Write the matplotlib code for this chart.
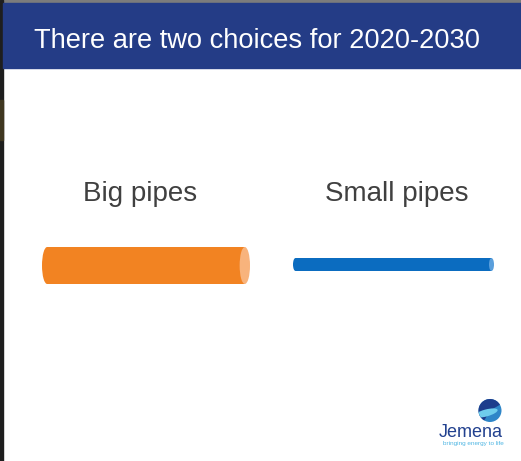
import matplotlib

matplotlib.use("Agg")

import matplotlib.pyplot as plt
from matplotlib.patches import Circle, Ellipse, Rectangle, Wedge

plt.rcParams["font.family"] = ["Liberation Sans", "DejaVu Sans"]

TITLE = "There are two choices for 2020-2030"
CATEGORIES = ["Big pipes", "Small pipes"]
# pipe diameter and length, read in pixels off the slide
PIPE_DIAMETERS = [37, 13]
PIPE_LENGTHS = [208, 201]

PIPE_COLORS = ["#f28322", "#0b6cc0"]
CAP_COLORS = ["#f8b37c", "#5a9fdc"]
HEADER_COLOR = "#243c86"
TEXT_COLOR = "#404040"

W, H = 521, 461
fig = plt.figure(figsize=(W / 100, H / 100), dpi=100)
ax = fig.add_axes([0, 0, 1, 1])
ax.set_xlim(0, W)
ax.set_ylim(H, 0)
ax.axis("off")

# slide frame
ax.add_patch(Rectangle((0, 0), W, H, color="white", zorder=0))
ax.add_patch(Rectangle((0, 0), W, 3, color="#7c7c7c", zorder=1))
ax.add_patch(Rectangle((0, 0), 3, H, color="#1e1e1e", zorder=1))
ax.add_patch(Rectangle((0, 100), 3, 40, color="#3f3720", zorder=1))
ax.add_patch(Rectangle((3, 3), W - 3, 65, color=HEADER_COLOR, zorder=2))
ax.text(257.5, 48, TITLE, color="white", fontsize=19.6, ha="center", va="baseline", zorder=3)

# pipes
centers = [140.5, 396.5]
starts = [42, 293]
pipe_mid_y = [265.5, 264.5]
for cx, x0, cy, label, dia, length, col, cap in zip(
    centers, starts, pipe_mid_y, CATEGORIES, PIPE_DIAMETERS, PIPE_LENGTHS, PIPE_COLORS, CAP_COLORS
):
    ax.text(cx, 201, label, color=TEXT_COLOR, fontsize=20, ha="center", va="baseline", zorder=3)
    rx = max(dia * 0.14, 2.5)
    x1 = x0 + length
    ax.add_patch(Ellipse((x0 + rx, cy), 2 * rx, dia, color=col, lw=0, zorder=3))
    ax.add_patch(Rectangle((x0 + rx, cy - dia / 2), length - 2 * rx, dia, color=col, lw=0, zorder=3))
    ax.add_patch(Ellipse((x1 - rx, cy), 2 * rx, dia, color=cap, lw=0, zorder=4))

# Jemena logo
logo = Circle((490, 410.5), 11.5, transform=ax.transData)
ax.add_patch(Circle((490, 410.5), 11.5, color="#2f86c8", lw=0, zorder=3))
navy = Wedge((490, 410.5), 11.5, 120, 330, color="#1d3d8c", lw=0, zorder=4)
ax.add_patch(navy)
swoosh = Ellipse((486, 413), 24, 7, angle=-15, color="#6fcdec", lw=0, zorder=5)
ax.add_patch(swoosh)
swoosh.set_clip_path(logo)
ax.text(471, 437, "Jemena", color="#22418f", fontsize=13, fontweight="medium",
        ha="center", va="baseline", zorder=3)
ax.text(473, 445, "bringing energy to life", color="#4fb6e3", fontsize=4.6,
        ha="center", va="baseline", zorder=3)

fig.savefig("out.png", dpi=100)
